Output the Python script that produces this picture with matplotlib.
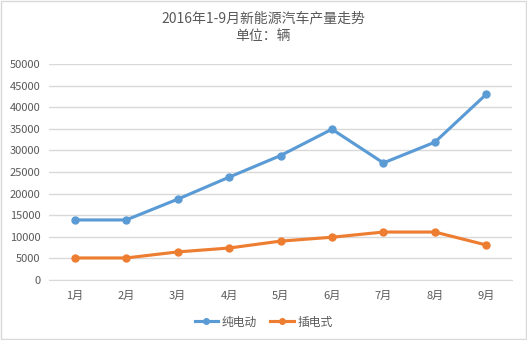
import matplotlib
matplotlib.use("Agg")
import matplotlib.pyplot as plt

plt.rcParams['font.family'] = ['Noto Sans CJK SC', 'DejaVu Sans']

# data
months = ["1月", "2月", "3月", "4月", "5月", "6月", "7月", "8月", "9月"]
pure_ev = [13900, 13900, 18700, 23800, 28800, 34900, 27100, 31900, 43000]
plug_in = [5100, 5100, 6500, 7400, 9000, 9900, 11100, 11100, 8100]
yticks = list(range(0, 50001, 5000))

text_color = "#595959"
grid_color = "#D9D9D9"

fig = plt.figure(figsize=(5.27, 3.40), dpi=100)
ax = fig.add_axes([49 / 527, 1 - 280 / 340, 463 / 527, 216 / 340])

x = range(len(months))
ax.plot(x, pure_ev, color="#5B9BD5", lw=2.25, marker="o", ms=5, label="纯电动")
ax.plot(x, plug_in, color="#ED7D31", lw=2.25, marker="o", ms=5, label="插电式")

ax.set_xlim(-0.5, len(months) - 0.5)
ax.set_ylim(0, 50000)
ax.set_yticks(yticks)
ax.set_yticklabels([str(v) for v in yticks])
ax.set_xticks(list(x))
ax.set_xticklabels(months)
ax.tick_params(axis="both", length=0, colors=text_color, labelsize=8)
ax.tick_params(axis="x", pad=8)
ax.tick_params(axis="y", pad=6)

ax.grid(axis="y", color=grid_color, lw=1)
ax.set_axisbelow(True)
for s in ["top", "right", "left"]:
    ax.spines[s].set_visible(False)
ax.spines["bottom"].set_color(grid_color)

fig.text(0.5, 1 - 18 / 340, "2016年1-9月新能源汽车产量走势", ha="center", va="center",
         fontsize=10, color=text_color)
fig.text(0.5, 1 - 36 / 340, "单位：辆", ha="center", va="center",
         fontsize=10, color=text_color)

leg = fig.legend(loc="center", bbox_to_anchor=(0.5, 1 - 322 / 340), ncol=2, frameon=False,
                 fontsize=8.5, labelcolor=text_color, handlelength=2.0, handletextpad=0.3,
                 columnspacing=1.1, markerscale=0.8)

# light border around the chart
fig.patches.append(plt.Rectangle((0.001, 0.002), 0.997, 0.995, transform=fig.transFigure,
                                 fill=False, edgecolor="#D9D9D9", lw=1))

fig.savefig("out.png", dpi=100)
